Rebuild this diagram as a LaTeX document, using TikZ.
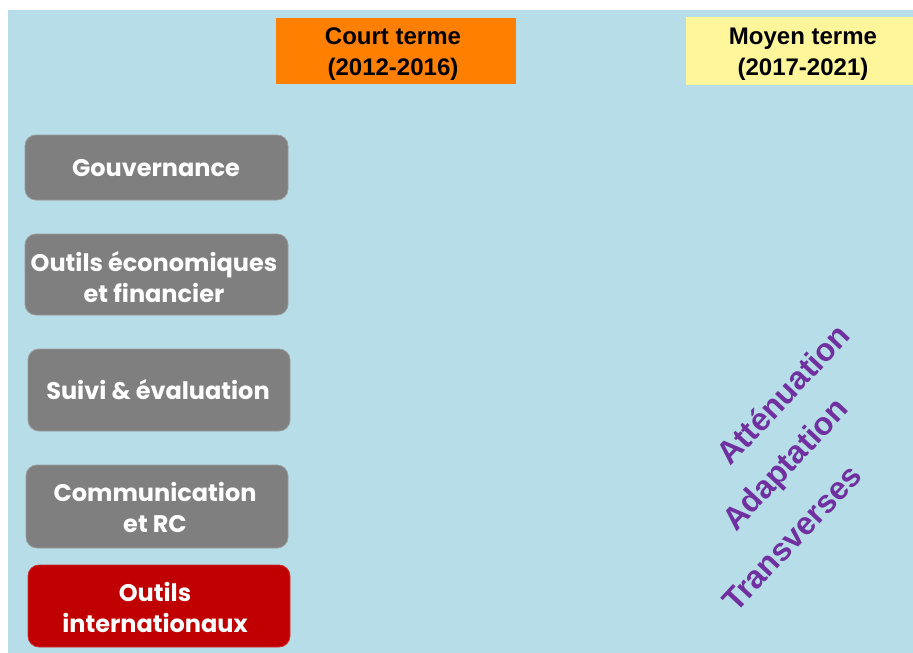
\documentclass[tikz,border=0pt]{standalone}
\usepackage{fontspec}
\setmainfont{Liberation Sans}
\newfontfamily\boxfont{Poppins}
\begin{document}
\begin{tikzpicture}[x=1pt,y=-1pt,
  header/.style={font=\fontsize{24}{31}\selectfont\bfseries, text=black,
    align=center, inner sep=0pt},
  axisbox/.style={draw=#1!80!white, line width=0.8pt, fill=#1, rounded corners=11pt},
  axislabel/.style={font=\boxfont\fontsize{24}{31}\selectfont\bfseries, text=white,
    align=center, inner sep=0pt},
  theme/.style={font=\fontsize{32}{38}\selectfont\bfseries, text=themepurple,
    rotate=47, inner sep=0pt}
]
\definecolor{bgblue}{HTML}{B7DDE8}
\definecolor{courtorange}{HTML}{FF8000}
\definecolor{moyenyellow}{HTML}{FFF59B}
\definecolor{axisgray}{HTML}{7F7F7F}
\definecolor{axisred}{HTML}{C00000}
\definecolor{themepurple}{HTML}{7030A0}

\useasboundingbox (0,0) rectangle (913,653);
\fill[white] (0,0) rectangle (913,653);
\fill[bgblue] (8,10) rectangle (913,653);

% time horizons
\fill[courtorange] (276,18) rectangle (516,84);
\node[header] (court) at (393,54) {Court terme\\ (2012-2016)};
\fill[moyenyellow] (686,17) rectangle (913,85);
\node[header] (moyen) at (803,54) {Moyen terme\\ (2017-2021)};

% action axes
\fill[axisbox=axisgray] (25,135) rectangle (288,200);
\node[axislabel] (gouv) at (156,168) {Gouvernance};
\fill[axisbox=axisgray] (25,234) rectangle (288,315);
\node[axislabel] (eco) at (154,277) {Outils économiques\\et financier};
\fill[axisbox=axisgray] (28,349) rectangle (290,431);
\node[axislabel] (suivi) at (158,390) {Suivi \& évaluation};
\fill[axisbox=axisgray] (26,465) rectangle (288,548);
\node[axislabel] (comm) at (155,507) {Communication\\et RC};
\fill[axisbox=axisred] (28,565) rectangle (290,647);
\node[axislabel] (inter) at (155,607) {Outils\\internationaux};

% themes
\node[theme] (att) at (783,394) {Atténuation};
\node[theme] (adapt) at (787,466) {Adaptation};
\node[theme] (trans) at (792,538) {Transverses};
\end{tikzpicture}
\end{document}
